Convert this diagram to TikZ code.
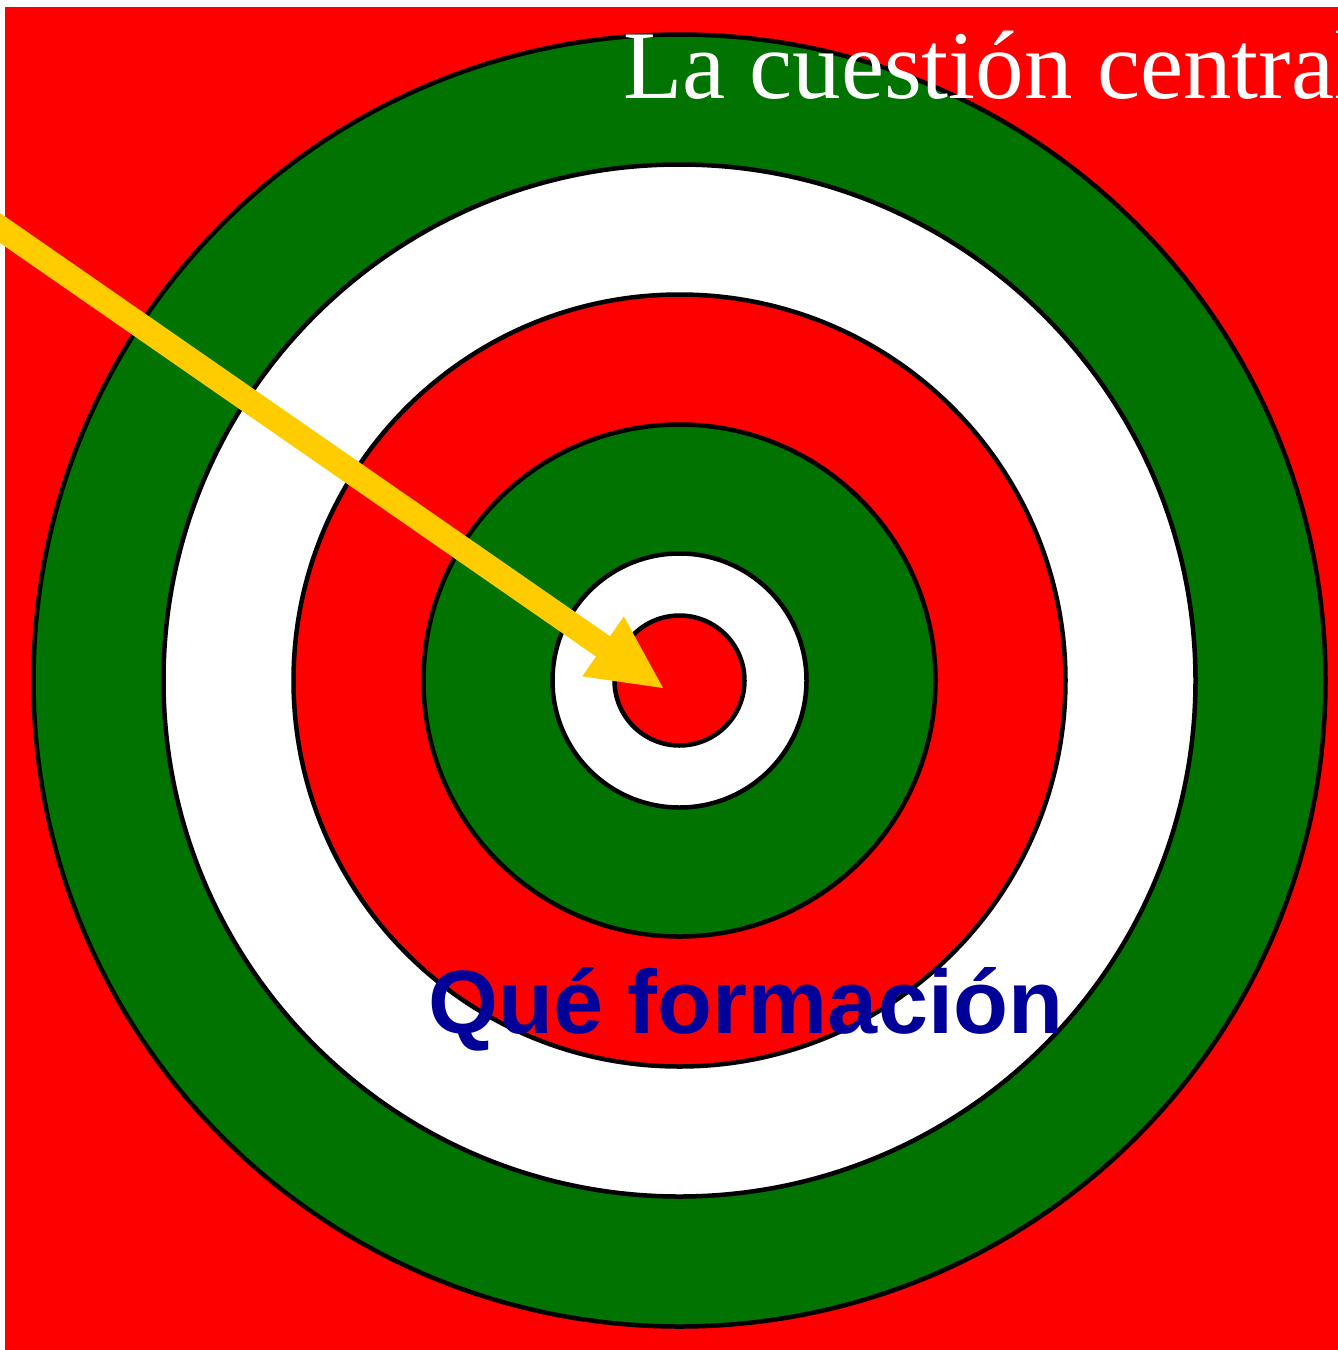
\documentclass[tikz,border=0pt]{standalone}
\usepackage{fontspec}
\setmainfont{Liberation Serif}
\newfontfamily\arialfont{Liberation Sans}
\usetikzlibrary{calc}
\definecolor{tred}{RGB}{255,0,0}
\definecolor{tgreen}{RGB}{0,115,0}
\definecolor{tyellow}{RGB}{255,204,0}
\definecolor{tblue}{RGB}{0,0,153}
\begin{document}
\begin{tikzpicture}[x=1pt,y=-1pt,
  ring/.style={draw=black,line width=4.5pt},
  txt/.style={anchor=base west,inner sep=0pt,outer sep=0pt},
  arrowbody/.style={draw=tyellow,line width=24.6pt,line cap=butt},
  arrowhead/.style={fill=tyellow}]
\useasboundingbox (0,0) rectangle (1338,1350);
\clip (0,0) rectangle (1338,1350);
\fill[white] (0,0) rectangle (1338,1350);
\fill[tred] (5,7) rectangle (1338,1350);
\coordinate (c) at (679.5,680.5);
\foreach \r/\col in {646/tgreen,516/white,386/tred,256/tgreen,127/white,65/tred}
  \draw[ring,fill=\col] (c) circle[radius=\r];
\node[txt,text=white,font=\fontsize{97}{97}\selectfont] (title) at (623,98) {La cuestión central};
\node[txt,text=tblue,font=\arialfont\bfseries\fontsize{90}{90}\selectfont] (label) at (428,1033) {Qué formación};
% arrow
\coordinate (tip) at (663,688);
\coordinate (tail) at (-20,214.1);
\coordinate (base) at ($(tip)!73pt!(tail)$);
\draw[arrowbody] (tail) -- ($(tip)!71pt!(tail)$);
\fill[arrowhead] (tip) -- ($(base)!36.5pt!90:(tip)$) -- ($(base)!36.5pt!-90:(tip)$) -- cycle;
\end{tikzpicture}
\end{document}
